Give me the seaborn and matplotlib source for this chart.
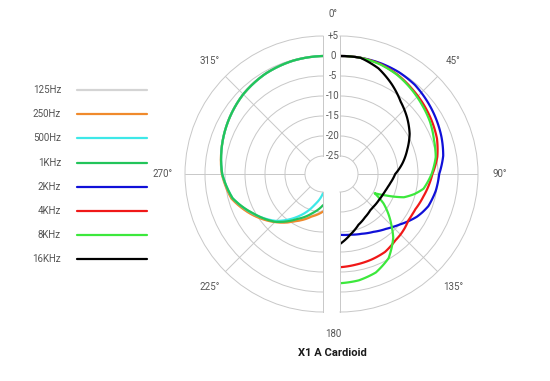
import numpy as np
import matplotlib
matplotlib.use('Agg')
import matplotlib.pyplot as plt
from matplotlib.transforms import offset_copy
import seaborn as sns

# polar response, dB per angle (degrees, clockwise from front)
left_deg = [180, 195, 210, 225, 240, 255, 270, 285, 300, 315, 330, 345, 360]
hz125 = [-20.3, -18.7, -16.0, -12.6, -9.2, -5.9, -4.3, -3.3, -2.3, -1.3, -0.6, -0.2, 0]
hz250 = [-20.1, -18.5, -15.9, -12.5, -9.1, -5.8, -4.2, -3.3, -2.3, -1.3, -0.6, -0.2, 0]
hz500 = [-24.7, -21.6, -17.3, -12.9, -9.5, -6.1, -4.3, -3.3, -2.3, -1.3, -0.6, -0.2, 0]
khz1 = [-21.7, -19.4, -16.5, -12.6, -9.6, -6.1, -4.3, -3.3, -2.3, -1.3, -0.6, -0.2, 0]

right_deg = [0, 10, 20, 30, 40, 50, 60, 70, 80, 90, 100, 105, 110, 115, 119,
             124, 130, 135, 140, 150, 160, 170, 180]
khz2 = [0, 0, 0, -0.1, -0.4, -1.1, -1.8, -2.5, -3.3, -4.7, -5.2, -5.6, -6.0,
        -6.8, -7.5, -8.6, -9.9, -10.8, -11.6, -12.8, -13.6, -14.1, -14.3]
khz4 = [0, 0, -0.2, -0.8, -1.6, -2.3, -3.0, -3.7, -4.8, -6.4, -7.4, -7.9, -8.3,
        -8.7, -8.8, -8.85, -8.4, -8.1, -7.9, -7.0, -6.7, -6.5, -6.2]
khz8 = [0, 0, -0.3, -0.9, -1.8, -2.7, -3.5, -4.5, -5.2, -6.6, -8.3, -10.2, -12.5,
        -16.8, -19.6, -16.4, -13.6, -11.3, -8.8, -5.2, -3.3, -2.5, -2.2]
khz16 = [0, 0, -1.4, -3.6, -5.9, -7.6, -9.4, -11.6, -13.6, -15.7, -16.7, -17.1, -17.4,
         -17.6, -17.7, -17.8, -17.8, -17.8, -17.7, -17.0, -16.0, -14.2, -12.0]

labels = ['125Hz', '250Hz', '500Hz', '1KHz', '2KHz', '4KHz', '8KHz', '16KHz']
colors = ['#d4d4d4', '#f08a2c', '#3ee8e8', '#22c45a', '#1010d8', '#f01818', '#3ce83c', '#000000']

sns.set_theme(style='white')
plt.rcParams['font.family'] = ['Roboto', 'DejaVu Sans']

fig = plt.figure(figsize=(5.5, 3.81), dpi=100)
W, H = 550, 381
ax_l = fig.add_axes([116 / W, 69 / H, 276 / W, 276 / H], projection='polar')
ax_r = fig.add_axes([271 / W, 69 / H, 276 / W, 276 / H], projection='polar')

grid_c = '#c8c8c8'
txt_c = '#555555'

series_l = [hz125, hz250, hz500, khz1]
series_r = [khz2, khz4, khz8, khz16]
for i, vals in enumerate(series_l):
    sns.lineplot(x=np.radians(left_deg), y=vals, ax=ax_l, color=colors[i],
                 lw=1.6, sort=False, estimator=None)
for i, vals in enumerate(series_r):
    sns.lineplot(x=np.radians(right_deg), y=vals, ax=ax_r, color=colors[i + 4],
                 lw=1.6, sort=False, estimator=None)

# draw segments as arcs in polar space instead of straight chords
for ax in (ax_l, ax_r):
    for ln in ax.lines:
        ln.get_path()._interpolation_steps = 40

for ax, lim, angs in [(ax_l, (180, 360), [225, 270, 315]),
                      (ax_r, (0, 180), [45, 90, 135])]:
    ax.set_theta_zero_location('N')
    ax.set_theta_direction(-1)
    ax.set_thetamin(lim[0])
    ax.set_thetamax(lim[1])
    ax.set_ylim(-25, 5)
    ax.set_rorigin(-29.5)
    ax.set_yticks([-20, -15, -10, -5, 0])
    ax.set_yticklabels([])
    ax.set_xticks(np.radians(angs))
    ax.set_xticklabels([])
    ax.tick_params(length=0)
    ax.grid(True, color=grid_c, lw=0.7)
    ax.set_xlabel('')
    ax.set_ylabel('')
    ax.set_facecolor('none')
    for sp in ax.spines.values():
        sp.set_color(grid_c)
        sp.set_linewidth(0.7)
    for a in angs:
        ax.text(np.radians(a), 10.5, f'{a}°', ha='center', va='center',
                fontsize=7, color=txt_c)

# labels on the gap between the halves
mid = offset_copy(ax_r.transData, fig=fig, x=-7, y=0, units='dots')
for v in [5, 0, -5, -10, -15, -20, -25]:
    lab = '+5' if v > 0 else str(v)
    ax_r.text(0, v, lab, transform=mid, ha='center', va='center', fontsize=7, color=txt_c)
ax_r.text(0, 10.5, '0°', transform=mid, ha='center', va='center', fontsize=7, color=txt_c)
ax_r.text(np.pi, 10.5, '180', transform=mid, ha='center', va='center', fontsize=7, color=txt_c)

# legend
ax_leg = fig.add_axes([0, 0, 160 / W, 1])
ax_leg.set_xlim(0, 160)
ax_leg.set_ylim(H, 0)
ax_leg.axis('off')
for i, (lab, c) in enumerate(zip(labels, colors)):
    y = 90 + i * 24.2
    ax_leg.plot([77, 147], [y, y], color=c, lw=1.6)
    ax_leg.text(61, y, lab, ha='right', va='center', fontsize=7, color=txt_c)

fig.text(332 / W, 1 - 353 / H, 'X1 A Cardioid', ha='center', va='center',
         fontsize=8, fontweight='bold', color='#1a1a1a')

fig.savefig('out.png', dpi=100)
